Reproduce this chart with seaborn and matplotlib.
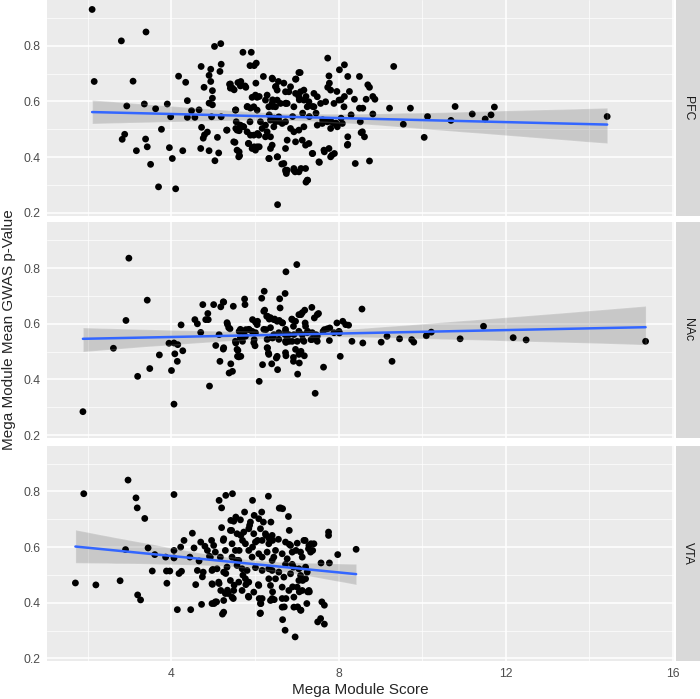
import numpy as np
import pandas as pd
import matplotlib
matplotlib.use("Agg")
import matplotlib.pyplot as plt
from matplotlib.ticker import MultipleLocator
import seaborn as sns

# ── Data ──────────────────────────────────────────────
regions = ["PFC", "NAc", "VTA"]

pfc_points = [
    (2.1, 0.931), (2.15, 0.672), (2.8, 0.818), (3.39, 0.85), (3.08, 0.673), (2.93, 0.584), (3.35, 0.591),
    (3.62, 0.574), (3.9, 0.591), (3.98, 0.545), (2.88, 0.482), (2.82, 0.464), (3.38, 0.465), (3.16, 0.423),
    (3.42, 0.437), (3.76, 0.5), (3.5, 0.374), (3.69, 0.293), (4.1, 0.286), (3.95, 0.434), (4.02, 0.395),
    (4.27, 0.423), (4.17, 0.691), (4.34, 0.669), (4.38, 0.603), (4.38, 0.543), (4.48, 0.567), (4.56, 0.543),
    (4.66, 0.57), (4.71, 0.726), (4.78, 0.651), (4.9, 0.694), (4.94, 0.716), (4.94, 0.672), (4.98, 0.639),
    (4.98, 0.612), (4.9, 0.594), (4.98, 0.588), (5.03, 0.798), (5.18, 0.808), (5.19, 0.734), (5.16, 0.708),
    (4.96, 0.545), (5.19, 0.545), (4.72, 0.507), (4.79, 0.48), (4.86, 0.49), (4.76, 0.468), (4.7, 0.431),
    (4.9, 0.423), (5.04, 0.387), (5.13, 0.415), (5.1, 0.471), (5.32, 0.497), (5.39, 0.662), (5.46, 0.648),
    (5.5, 0.642), (5.66, 0.672), (5.71, 0.777), (5.91, 0.777), (5.88, 0.729), (6.03, 0.738), (5.98, 0.729),
    (5.78, 0.651), (5.54, 0.57), (5.55, 0.527), (5.54, 0.503), (5.62, 0.495), (5.52, 0.453), (5.62, 0.419),
    (5.63, 0.405), (5.71, 0.51), (5.82, 0.582), (5.84, 0.449), (5.88, 0.527), (5.98, 0.437), (6.1, 0.437),
    (6.06, 0.485), (6.02, 0.666), (6.2, 0.69), (6.1, 0.618), (6.42, 0.681), (6.5, 0.654), (6.56, 0.672),
    (6.42, 0.606), (6.34, 0.395), (6.54, 0.401), (6.54, 0.229), (6.64, 0.375), (6.74, 0.347), (6.75, 0.341),
    (6.93, 0.353), (6.96, 0.347), (7.08, 0.704), (6.98, 0.681), (7.1, 0.359), (7.26, 0.317), (7.22, 0.31),
    (7.38, 0.413), (7.54, 0.381), (7.74, 0.756), (8.02, 0.714), (8.14, 0.732), (8.22, 0.69), (8.5, 0.69),
    (8.7, 0.66), (8.4, 0.377), (8.74, 0.386), (7.84, 0.407), (7.9, 0.413), (7.66, 0.419), (8.22, 0.473),
    (8.22, 0.446), (8.54, 0.488), (8.62, 0.473), (8.52, 0.527), (8.5, 0.576), (8.58, 0.576), (8.38, 0.608),
    (8.26, 0.636), (8.66, 0.608), (7.78, 0.666), (7.74, 0.651), (7.96, 0.636), (8.06, 0.606), (8.14, 0.618),
    (8.3, 0.552), (8.74, 0.651), (9.32, 0.726), (8.82, 0.618), (8.87, 0.608), (8.82, 0.555), (9.22, 0.576),
    (9.72, 0.576), (8.57, 0.491), (9.55, 0.518), (10.05, 0.471), (10.13, 0.546), (10.79, 0.582),
    (10.69, 0.532), (11.2, 0.555), (11.51, 0.537), (11.65, 0.552), (11.73, 0.58), (14.43, 0.546),
    (5.41, 0.663), (5.59, 0.668), (5.65, 0.656), (5.76, 0.656), (6.41, 0.684), (6.49, 0.653), (6.53, 0.641),
    (6.69, 0.666), (6.73, 0.635), (5.41, 0.648), (6.01, 0.623), (5.93, 0.615), (6.05, 0.615), (6.29, 0.623),
    (6.25, 0.605), (6.41, 0.593), (6.33, 0.581), (6.49, 0.581), (6.53, 0.605), (6.61, 0.593), (6.73, 0.593),
    (5.81, 0.581), (5.89, 0.576), (5.97, 0.581), (6.05, 0.569), (5.53, 0.569), (5.33, 0.497), (5.57, 0.497),
    (5.65, 0.515), (5.73, 0.509), (5.81, 0.491), (5.89, 0.479), (5.97, 0.479), (6.09, 0.479), (6.17, 0.503),
    (6.13, 0.527), (6.25, 0.515), (6.29, 0.491), (6.37, 0.533), (6.49, 0.527), (6.57, 0.545), (6.65, 0.521),
    (6.45, 0.509), (5.49, 0.455), (5.57, 0.425), (5.61, 0.401), (5.85, 0.449), (5.93, 0.431), (6.01, 0.425),
    (6.05, 0.437), (6.25, 0.473), (6.37, 0.473), (6.41, 0.443), (6.37, 0.431), (6.33, 0.395), (6.53, 0.401),
    (6.69, 0.377), (6.73, 0.353), (7.05, 0.704), (6.97, 0.68), (7.77, 0.692), (6.85, 0.653), (6.81, 0.635),
    (6.97, 0.629), (7.09, 0.635), (7.17, 0.641), (7.05, 0.617), (7.17, 0.605), (7.29, 0.599), (7.41, 0.629),
    (7.49, 0.617), (7.57, 0.593), (7.69, 0.599), (7.89, 0.593), (8.01, 0.605), (8.13, 0.581), (6.77, 0.593),
    (6.93, 0.581), (7.25, 0.581), (7.41, 0.581), (6.73, 0.527), (6.85, 0.503), (6.93, 0.491), (7.05, 0.497),
    (7.17, 0.509), (7.49, 0.515), (7.61, 0.521), (7.73, 0.527), (7.81, 0.503), (7.89, 0.521), (7.97, 0.509),
    (8.09, 0.521), (6.77, 0.461), (6.73, 0.431), (6.97, 0.455), (7.13, 0.461), (7.21, 0.443), (7.29, 0.449),
    (7.37, 0.413), (7.53, 0.383), (7.65, 0.425), (7.77, 0.431), (7.81, 0.401), (8.21, 0.443), (6.77, 0.353),
    (6.93, 0.359), (7.05, 0.347), (7.21, 0.359), (7.25, 0.317), (7.81, 0.641), (6.34, 0.552), (6.46, 0.54),
    (6.58, 0.528), (6.9, 0.546), (7.14, 0.558), (7.3, 0.546), (7.46, 0.558), (7.62, 0.534), (7.82, 0.528),
    (7.94, 0.522), (8.06, 0.54), (6.42, 0.582), (6.74, 0.594), (7.06, 0.606), (7.38, 0.582), (7.22, 0.618),
]

nac_points = [
    (1.88, 0.284), (2.98, 0.836), (2.91, 0.612), (2.61, 0.512), (3.42, 0.685), (3.19, 0.411), (3.48, 0.439),
    (3.71, 0.488), (4.0, 0.432), (4.06, 0.311), (3.94, 0.53), (4.06, 0.531), (4.15, 0.525), (4.08, 0.492),
    (4.14, 0.465), (4.27, 0.503), (4.23, 0.596), (4.56, 0.615), (4.62, 0.6), (4.7, 0.569), (4.75, 0.669),
    (4.82, 0.615), (4.87, 0.637), (4.88, 0.615), (5.01, 0.669), (5.18, 0.661), (5.24, 0.679), (5.14, 0.561),
    (4.91, 0.376), (5.06, 0.522), (5.24, 0.509), (5.16, 0.465), (5.34, 0.598), (5.4, 0.582), (5.48, 0.663),
    (5.42, 0.456), (5.38, 0.423), (5.46, 0.429), (5.54, 0.531), (5.59, 0.504), (5.58, 0.483), (5.66, 0.483),
    (5.62, 0.573), (5.7, 0.537), (5.75, 0.689), (5.76, 0.669), (5.78, 0.579), (5.86, 0.579), (5.94, 0.615),
    (5.98, 0.543), (6.0, 0.521), (6.06, 0.609), (6.1, 0.393), (6.16, 0.692), (6.18, 0.453), (6.22, 0.717),
    (6.23, 0.649), (6.26, 0.579), (6.3, 0.513), (6.32, 0.495), (6.3, 0.627), (6.34, 0.617), (6.4, 0.456),
    (6.42, 0.549), (6.47, 0.617), (6.51, 0.477), (6.54, 0.435), (6.58, 0.612), (6.6, 0.657), (6.66, 0.603),
    (6.72, 0.709), (6.74, 0.787), (6.72, 0.561), (6.74, 0.533), (6.74, 0.485), (6.82, 0.537), (6.88, 0.617),
    (6.92, 0.591), (6.92, 0.479), (6.92, 0.465), (7.0, 0.813), (7.02, 0.419), (7.06, 0.459), (7.1, 0.633),
    (7.1, 0.501), (7.14, 0.543), (7.18, 0.485), (7.19, 0.649), (7.2, 0.603), (7.26, 0.573), (7.36, 0.659),
    (7.42, 0.621), (7.52, 0.637), (7.44, 0.35), (7.64, 0.444), (7.66, 0.579), (7.78, 0.54), (7.79, 0.585),
    (7.96, 0.603), (8.04, 0.483), (8.1, 0.609), (8.24, 0.595), (8.32, 0.537), (8.56, 0.653), (8.58, 0.531),
    (8.02, 0.567), (7.46, 0.561), (7.34, 0.543), (9.02, 0.534), (9.16, 0.555), (9.28, 0.465), (9.46, 0.546),
    (9.75, 0.543), (9.8, 0.534), (10.1, 0.557), (10.22, 0.57), (10.91, 0.546), (11.47, 0.591), (12.18, 0.55),
    (12.49, 0.542), (15.35, 0.537), (6.59, 0.69), (5.25, 0.678), (6.21, 0.645), (6.28, 0.627), (6.37, 0.622),
    (6.45, 0.615), (6.53, 0.609), (6.65, 0.604), (6.01, 0.606), (6.05, 0.597), (5.33, 0.604), (5.37, 0.586),
    (5.65, 0.58), (5.73, 0.57), (5.85, 0.58), (5.93, 0.573), (6.01, 0.568), (6.21, 0.58), (6.37, 0.586),
    (6.45, 0.561), (6.57, 0.568), (6.73, 0.573), (5.65, 0.55), (5.77, 0.555), (5.53, 0.537), (5.97, 0.532),
    (6.29, 0.544), (6.41, 0.55), (6.57, 0.544), (6.73, 0.537), (5.57, 0.508), (5.61, 0.481), (6.29, 0.514),
    (6.33, 0.49), (6.53, 0.483), (5.25, 0.514), (7.49, 0.633), (7.13, 0.64), (7.05, 0.633), (6.89, 0.615),
    (6.97, 0.609), (7.21, 0.591), (8.17, 0.597), (7.73, 0.582), (7.63, 0.573), (7.89, 0.568), (8.01, 0.573),
    (6.73, 0.58), (6.81, 0.561), (6.93, 0.561), (7.05, 0.573), (7.13, 0.561), (7.25, 0.568), (7.37, 0.568),
    (7.49, 0.555), (6.77, 0.544), (6.89, 0.537), (7.01, 0.537), (7.17, 0.537), (7.37, 0.544), (7.49, 0.537),
    (6.73, 0.496), (6.97, 0.508), (7.05, 0.49),
]

vta_points = [
    (1.7, 0.471), (1.9, 0.792), (2.19, 0.464), (2.77, 0.479), (2.9, 0.591), (2.96, 0.841), (3.15, 0.777),
    (3.18, 0.741), (3.36, 0.703), (3.19, 0.428), (3.26, 0.41), (3.44, 0.597), (3.54, 0.514), (3.6, 0.573),
    (3.86, 0.564), (3.88, 0.514), (3.89, 0.47), (3.96, 0.514), (4.06, 0.789), (4.06, 0.561), (4.06, 0.588),
    (4.14, 0.375), (4.18, 0.505), (4.22, 0.6), (4.24, 0.513), (4.3, 0.624), (4.44, 0.564), (4.46, 0.375),
    (4.5, 0.65), (4.54, 0.597), (4.58, 0.465), (4.62, 0.516), (4.66, 0.55), (4.7, 0.618), (4.72, 0.394),
    (4.74, 0.493), (4.76, 0.51), (4.8, 0.603), (4.86, 0.588), (4.91, 0.567), (4.96, 0.624), (4.99, 0.52),
    (4.98, 0.466), (5.02, 0.397), (5.08, 0.403), (5.14, 0.469), (5.14, 0.768), (5.2, 0.741), (5.2, 0.67),
    (5.22, 0.359), (5.24, 0.624), (5.3, 0.786), (5.3, 0.505), (5.34, 0.445), (5.36, 0.433), (5.42, 0.696),
    (5.44, 0.66), (5.46, 0.792), (5.48, 0.415), (5.5, 0.463), (5.54, 0.708), (5.56, 0.552), (5.62, 0.588),
    (5.66, 0.642), (5.7, 0.624), (5.71, 0.499), (5.75, 0.726), (5.78, 0.465), (5.84, 0.423), (5.87, 0.678),
    (5.94, 0.768), (5.94, 0.6), (5.98, 0.714), (6.06, 0.624), (6.08, 0.465), (6.1, 0.415), (6.12, 0.361),
    (6.14, 0.397), (6.16, 0.726), (6.2, 0.69), (6.26, 0.642), (6.32, 0.783), (6.34, 0.63), (6.38, 0.69),
    (6.42, 0.624), (6.42, 0.439), (6.46, 0.411), (6.56, 0.628), (6.58, 0.74), (6.66, 0.738), (6.66, 0.339),
    (6.7, 0.385), (6.72, 0.301), (6.74, 0.415), (6.8, 0.71), (6.82, 0.66), (6.82, 0.61), (6.9, 0.457),
    (6.92, 0.528), (6.96, 0.277), (6.98, 0.588), (7.02, 0.385), (7.06, 0.439), (7.1, 0.373), (7.14, 0.48),
    (7.2, 0.624), (7.24, 0.397), (7.26, 0.439), (7.28, 0.594), (7.3, 0.439), (7.34, 0.612), (7.38, 0.588),
    (7.5, 0.331), (7.58, 0.543), (7.6, 0.403), (7.66, 0.391), (7.66, 0.323), (7.76, 0.654), (7.76, 0.642),
    (7.78, 0.543), (7.98, 0.573), (8.42, 0.592), (5.49, 0.693), (5.65, 0.698), (5.89, 0.69), (6.09, 0.702),
    (5.41, 0.66), (5.57, 0.648), (5.73, 0.654), (5.85, 0.666), (5.97, 0.648), (6.13, 0.666), (6.25, 0.648),
    (6.41, 0.642), (5.01, 0.606), (5.25, 0.63), (5.45, 0.612), (5.77, 0.612), (6.01, 0.618), (6.17, 0.624),
    (6.33, 0.612), (5.05, 0.582), (5.29, 0.588), (5.53, 0.588), (5.85, 0.588), (6.09, 0.576), (6.29, 0.582),
    (4.93, 0.564), (5.17, 0.564), (5.45, 0.564), (5.61, 0.552), (5.93, 0.564), (6.17, 0.564), (6.41, 0.552),
    (5.33, 0.528), (5.57, 0.534), (5.69, 0.522), (5.81, 0.516), (6.01, 0.526), (6.17, 0.516), (6.33, 0.522),
    (4.97, 0.516), (5.09, 0.522), (5.25, 0.51), (4.97, 0.468), (5.13, 0.474), (5.41, 0.48), (5.61, 0.474),
    (5.77, 0.486), (5.85, 0.474), (6.09, 0.462), (6.33, 0.486), (6.37, 0.462), (5.18, 0.444), (5.29, 0.433),
    (5.49, 0.444), (5.69, 0.444), (5.97, 0.438), (6.17, 0.415), (4.97, 0.397), (5.05, 0.403), (5.25, 0.408),
    (5.45, 0.42), (5.85, 0.42), (6.13, 0.397), (6.37, 0.408), (5.25, 0.366), (6.13, 0.363), (6.61, 0.741),
    (6.73, 0.618), (6.85, 0.606), (7.01, 0.614), (7.17, 0.624), (7.29, 0.606), (7.41, 0.612), (6.49, 0.588),
    (6.65, 0.576), (6.89, 0.582), (7.09, 0.582), (7.33, 0.582), (6.45, 0.564), (6.77, 0.558), (7.13, 0.564),
    (6.73, 0.538), (6.89, 0.538), (7.05, 0.522), (7.21, 0.528), (6.41, 0.516), (6.57, 0.51), (6.85, 0.504),
    (7.09, 0.498), (7.25, 0.51), (6.49, 0.486), (6.69, 0.492), (7.05, 0.48), (7.21, 0.486), (6.65, 0.456),
    (6.81, 0.444), (7.01, 0.456), (7.13, 0.444), (7.29, 0.444), (6.41, 0.415), (6.65, 0.415), (6.93, 0.42),
    (6.65, 0.384), (6.93, 0.384), (7.09, 0.373), (7.57, 0.343),
]

x_ticks = [4, 8, 12, 16]
y_ticks = [0.2, 0.4, 0.6, 0.8]

frames = []
for name, pts in zip(regions, [pfc_points, nac_points, vta_points]):
    d = pd.DataFrame(pts, columns=["score", "pval"])
    d["region"] = name
    frames.append(d)
df = pd.concat(frames, ignore_index=True)

# ── Style (ggplot2 grey theme look) ───────────────────
sns.set_style("white")
plt.rcParams["font.family"] = ["Liberation Sans", "DejaVu Sans"]

W, H = 700, 699
fig = plt.figure(figsize=(W / 100, H / 100), dpi=100)

# panel pixel boxes: (top, bottom)
panel_px = [(0, 215.5), (222.3, 437.8), (445.6, 661.1)]
left_px, right_px = 47, 674
strip_l, strip_r = 676, 700

for (top, bot), name in zip(panel_px, regions):
    ax = fig.add_axes([left_px / W, 1 - bot / H, (right_px - left_px) / W, (bot - top) / H])
    sub = df[df["region"] == name]
    ax.set_facecolor("#EBEBEB")
    sns.scatterplot(data=sub, x="score", y="pval", ax=ax, color="black",
                    s=24, edgecolor="none", linewidth=0, zorder=3)
    # grey CI band, then blue fit line (as geom_smooth(method = "lm"))
    sns.regplot(data=sub, x="score", y="pval", ax=ax, scatter=False, ci=95,
                n_boot=2000, seed=1, color="black",
                line_kws={"alpha": 0, "zorder": 4})
    sns.regplot(data=sub, x="score", y="pval", ax=ax, scatter=False, ci=None,
                color="#3366FF", line_kws={"linewidth": 1.8, "zorder": 5})
    for coll in ax.collections[1:]:
        coll.set_zorder(4)

    ax.set_xlim(1.02, 16.03)
    ax.set_ylim(0.19, 0.965)
    ax.xaxis.set_major_locator(MultipleLocator(4))
    ax.xaxis.set_minor_locator(MultipleLocator(2))
    ax.yaxis.set_major_locator(MultipleLocator(0.2))
    ax.yaxis.set_minor_locator(MultipleLocator(0.1))
    ax.set_yticks(y_ticks)
    ax.set_yticklabels([f"{v:.1f}" for v in y_ticks])
    ax.grid(which="major", color="white", linewidth=1.1, zorder=0)
    ax.grid(which="minor", color="white", linewidth=0.5, zorder=0)
    ax.set_axisbelow(True)
    for sp in ax.spines.values():
        sp.set_visible(False)
    ax.tick_params(which="major", length=3, width=0.8, color="#333333",
                   labelsize=8.8, labelcolor="#4D4D4D", pad=2)
    ax.tick_params(which="minor", length=0)
    ax.set_xlabel("")
    ax.set_ylabel("")
    if name != regions[-1]:
        ax.tick_params(axis="x", which="both", length=0, labelbottom=False)
    else:
        ax.set_xticks(x_ticks)
        ax.set_xticklabels([str(v) for v in x_ticks])

    # facet strip
    sax = fig.add_axes([strip_l / W, 1 - bot / H, (strip_r - strip_l) / W, (bot - top) / H])
    sax.set_facecolor("#D9D9D9")
    sax.set_xticks([])
    sax.set_yticks([])
    for sp in sax.spines.values():
        sp.set_visible(False)
    sax.text(0.5, 0.5, name, rotation=270, ha="center", va="center",
             fontsize=8.8, color="#1A1A1A", transform=sax.transAxes)

fig.text((left_px + right_px) / 2 / W, 1 - 690 / H, "Mega Module Score",
         ha="center", va="center", fontsize=11)
fig.text(9 / W, 1 - 330 / H, "Mega Module Mean GWAS p-Value",
         ha="center", va="center", rotation=90, fontsize=11)

fig.savefig("out.png", dpi=100)
